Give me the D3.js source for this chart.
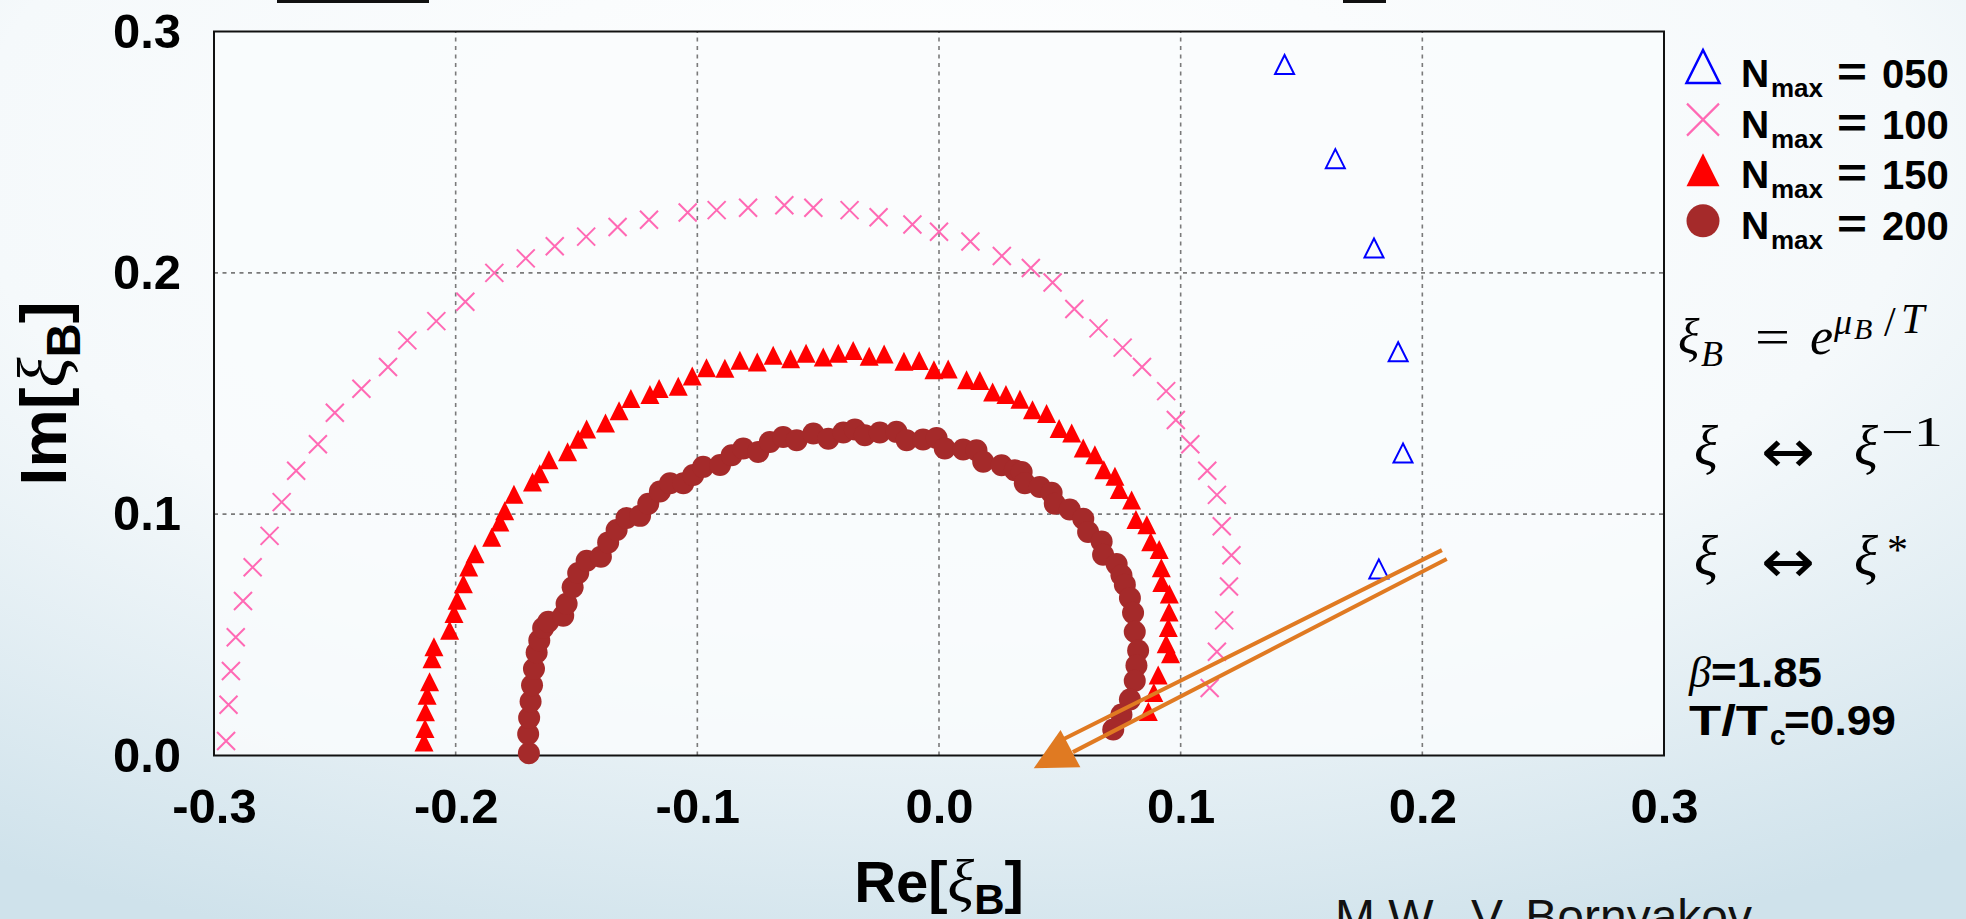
<!DOCTYPE html>
<html>
<head>
<meta charset="utf-8">
<script src="https://cdn.jsdelivr.net/npm/d3@7"></script>
<style>
html, body { margin: 0; padding: 0; overflow: hidden; }
svg { display: block; }
</style>
</head>
<body>
<div id="chart"></div>
<script>
// Lee-Yang zeros in the complex fugacity plane, one series per N_max
const re050 = [0.143, 0.164, 0.180, 0.190, 0.192, 0.182]
const im050 = [0.285, 0.246, 0.209, 0.166, 0.124, 0.076]

const re100 = [-0.295, -0.294, -0.293, -0.291, -0.288, -0.284, -0.277, -0.272, -0.266, -0.257,
  -0.250, -0.239, -0.228, -0.220, -0.208, -0.196, -0.184, -0.171, -0.159, -0.146,
  -0.133, -0.120, -0.104, -0.092, -0.079, -0.064, -0.052, -0.037, -0.025, -0.011,
  0.000, 0.013, 0.026, 0.038, 0.047, 0.056, 0.066, 0.076, 0.084, 0.094,
  0.098, 0.104, 0.111, 0.115, 0.117, 0.121, 0.120, 0.118, 0.115, 0.112]
const im100 = [0.006, 0.021, 0.035, 0.049, 0.064, 0.078, 0.091, 0.105, 0.118, 0.129,
  0.142, 0.152, 0.161, 0.172, 0.180, 0.188, 0.200, 0.206, 0.211, 0.215,
  0.219, 0.222, 0.225, 0.226, 0.227, 0.228, 0.227, 0.226, 0.223, 0.220,
  0.217, 0.213, 0.207, 0.202, 0.196, 0.185, 0.177, 0.169, 0.161, 0.151,
  0.139, 0.129, 0.118, 0.108, 0.095, 0.083, 0.070, 0.056, 0.043, 0.028]

const re150 = [-0.2131, -0.2127, -0.2125, -0.2118, -0.2108, -0.2098, -0.2090, -0.2025, -0.2007, -0.1994,
  -0.1968, -0.1946, -0.1920, -0.1851, -0.1817, -0.1797, -0.1759, -0.1682, -0.1652, -0.1614,
  -0.1537, -0.1493, -0.1458, -0.1380, -0.1324, -0.1275, -0.1196, -0.1158, -0.1079, -0.1021,
  -0.0962, -0.0886, -0.0824, -0.0752, -0.0686, -0.0614, -0.0550, -0.0479, -0.0417, -0.0355,
  -0.0289, -0.0227, -0.0145, -0.0082, -0.0021, 0.0038, 0.0114, 0.0169, 0.0222, 0.0277,
  0.0335, 0.0387, 0.0445, 0.0497, 0.0549, 0.0597, 0.0645, 0.0682, 0.0728, 0.0746,
  0.0797, 0.0815, 0.0860, 0.0876, 0.0911, 0.0920, 0.0922, 0.0953, 0.0952, 0.0949,
  0.0940, 0.0958, 0.0907, 0.0889, 0.0866]
const im150 = [0.0043, 0.0099, 0.0168, 0.0237, 0.0292, 0.0388, 0.0437, 0.0506, 0.0575, 0.0630,
  0.0699, 0.0768, 0.0823, 0.0891, 0.0954, 0.1001, 0.1069, 0.1120, 0.1154, 0.1212,
  0.1246, 0.1297, 0.1340, 0.1365, 0.1415, 0.1466, 0.1483, 0.1508, 0.1517, 0.1559,
  0.1594, 0.1592, 0.1625, 0.1617, 0.1645, 0.1631, 0.1654, 0.1638, 0.1654, 0.1665,
  0.1641, 0.1651, 0.1620, 0.1624, 0.1585, 0.1588, 0.1544, 0.1541, 0.1493, 0.1483,
  0.1463, 0.1420, 0.1404, 0.1342, 0.1323, 0.1261, 0.1233, 0.1171, 0.1144, 0.1089,
  0.1046, 0.0965, 0.0943, 0.0873, 0.0840, 0.0765, 0.0704, 0.0656, 0.0582, 0.0517,
  0.0450, 0.0409, 0.0320, 0.0248, 0.0169]

const re200 = [-0.1697, -0.1700, -0.1696, -0.1690, -0.1684, -0.1676, -0.1665, -0.1654, -0.1638, -0.1617,
  -0.1555, -0.1541, -0.1516, -0.1493, -0.1458, -0.1399, -0.1369, -0.1334, -0.1293, -0.1237,
  -0.1203, -0.1155, -0.1113, -0.1058, -0.1017, -0.0976, -0.0906, -0.0858, -0.0810, -0.0748,
  -0.0700, -0.0645, -0.0589, -0.0520, -0.0458, -0.0396, -0.0348, -0.0307, -0.0245, -0.0176,
  -0.0134, -0.0066, -0.0010, 0.0024, 0.0100, 0.0155, 0.0183, 0.0259, 0.0314, 0.0342,
  0.0355, 0.0417, 0.0466, 0.0479, 0.0541, 0.0597, 0.0617, 0.0673, 0.0679, 0.0735,
  0.0755, 0.0769, 0.0790, 0.0803, 0.0810, 0.0824, 0.0817, 0.0810, 0.0790, 0.0755,
  0.0721]
const im200 = [0.0009, 0.0089, 0.0156, 0.0224, 0.0291, 0.0359, 0.0427, 0.0477, 0.0528, 0.0554,
  0.0579, 0.0629, 0.0697, 0.0756, 0.0807, 0.0824, 0.0883, 0.0934, 0.0984, 0.0993,
  0.1043, 0.1094, 0.1128, 0.1128, 0.1162, 0.1196, 0.1204, 0.1244, 0.1272, 0.1258,
  0.1299, 0.1320, 0.1306, 0.1334, 0.1313, 0.1338, 0.1351, 0.1327, 0.1338, 0.1341,
  0.1306, 0.1309, 0.1316, 0.1272, 0.1268, 0.1265, 0.1217, 0.1203, 0.1182, 0.1175,
  0.1128, 0.1113, 0.1089, 0.1043, 0.1019, 0.0981, 0.0926, 0.0887, 0.0832, 0.0793,
  0.0747, 0.0708, 0.0653, 0.0591, 0.0513, 0.0435, 0.0373, 0.0310, 0.0232, 0.0170,
  0.0108]

const nmaxLabels = ['050', '100', '150', '200']
const xTicks = [-0.3, -0.2, -0.1, 0.0, 0.1, 0.2, 0.3]
const yTicks = [0.0, 0.1, 0.2, 0.3]
const xGrid = [-0.2, -0.1, 0.0, 0.1, 0.2]
const yGrid = [0.1, 0.2]

// orange double arrow (data units): two shafts and a head
const arrowShaftA = [[0.2081, 0.0851], [0.0508, 0.0064]]
const arrowShaftB = [[0.2101, 0.0814], [0.0554, 0.0014]]
const arrowHead = [[0.0503, 0.0106], [0.0392, -0.0053], [0.0585, -0.0049]]

const width = 1966
const height = 919
const sans = "'Liberation Sans', Arial, sans-serif"
const serif = "'Liberation Serif', 'Times New Roman', serif"

const svg = d3.select('#chart')
  .append('svg')
  .attr('width', width)
  .attr('height', height)

// slide background
const defs = svg.append('defs')
const bg = defs.append('radialGradient')
  .attr('id', 'bg')
  .attr('cx', '48%').attr('cy', '18%').attr('r', '90%')
bg.append('stop').attr('offset', '0%').attr('stop-color', '#ffffff')
bg.append('stop').attr('offset', '55%').attr('stop-color', '#f5f9fb')
bg.append('stop').attr('offset', '100%').attr('stop-color', '#cfe2eb')
svg.append('rect').attr('width', width).attr('height', height).attr('fill', 'url(#bg)')

// remnants of the text above the picture
svg.append('rect').attr('x', 277).attr('y', 0).attr('width', 152).attr('height', 3).attr('fill', '#111')
svg.append('rect').attr('x', 1343).attr('y', 0).attr('width', 43).attr('height', 3).attr('fill', '#111')

const x = d3.scaleLinear().domain([-0.3, 0.3]).range([214, 1664])
const y = d3.scaleLinear().domain([0, 0.3]).range([755.5, 31.5])

// plot area
svg.append('rect')
  .attr('x', x(-0.3)).attr('y', y(0.3))
  .attr('width', x(0.3) - x(-0.3)).attr('height', y(0) - y(0.3))
  .attr('fill', '#f9fcfd').attr('opacity', 0.85)

// grid
svg.append('g').selectAll('line')
  .data(xGrid)
  .enter()
  .append('line')
  .attr('x1', d => x(d)).attr('x2', d => x(d))
  .attr('y1', y(0)).attr('y2', y(0.3))
  .attr('stroke', '#7a7a7a').attr('stroke-width', 1.6).attr('stroke-dasharray', '4,4.5')
svg.append('g').selectAll('line')
  .data(yGrid)
  .enter()
  .append('line')
  .attr('x1', x(-0.3)).attr('x2', x(0.3))
  .attr('y1', d => y(d)).attr('y2', d => y(d))
  .attr('stroke', '#7a7a7a').attr('stroke-width', 1.6).attr('stroke-dasharray', '4,4.5')

// frame
svg.append('rect')
  .attr('x', x(-0.3)).attr('y', y(0.3))
  .attr('width', x(0.3) - x(-0.3)).attr('height', y(0) - y(0.3))
  .attr('fill', 'none').attr('stroke', '#111').attr('stroke-width', 2)

// axes
const styleTicks = g => {
  g.select('.domain').remove()
  g.selectAll('text')
    .attr('font-family', sans)
    .attr('font-weight', 'bold')
    .attr('font-size', 49)
    .attr('fill', '#000')
}
svg.append('g')
  .attr('transform', `translate(0, ${y(0)})`)
  .call(d3.axisBottom(x).tickValues(xTicks).tickSize(0).tickPadding(33).tickFormat(d => d.toFixed(1)))
  .call(styleTicks)
svg.append('g')
  .attr('transform', `translate(${x(-0.3)}, 0)`)
  .call(d3.axisLeft(y).tickValues(yTicks).tickSize(0).tickPadding(33).tickFormat(d => d.toFixed(1)))
  .call(styleTicks)

// axis titles
const axisTitle = (sel, prefix, k) => {
  sel.attr('text-anchor', 'middle').attr('fill', '#000')
  sel.append('tspan').text(prefix + '[')
    .attr('font-family', sans).attr('font-weight', 'bold').attr('font-size', 58 * k)
  sel.append('tspan').text('ξ')
    .attr('font-family', serif).attr('font-style', 'italic').attr('font-size', 62 * k)
  sel.append('tspan').text('B').attr('dy', 12 * k)
    .attr('font-family', sans).attr('font-weight', 'bold').attr('font-size', 42 * k)
  sel.append('tspan').text(']').attr('dy', -12 * k)
    .attr('font-family', sans).attr('font-weight', 'bold').attr('font-size', 58 * k)
}
svg.append('text')
  .attr('x', (x(-0.3) + x(0.3)) / 2).attr('y', 902)
  .call(axisTitle, 'Re', 1)
svg.append('text')
  .attr('transform', `translate(66, ${(y(0) + y(0.3)) / 2}) rotate(-90)`)
  .call(axisTitle, 'Im', 1.13)

// marker shapes
const tri = s => `M0,${-2 * s / 3}L${-s / 2},${s / 3}L${s / 2},${s / 3}Z`
const cross = h => `M${-h},${-h}L${h},${h}M${-h},${h}L${h},${-h}`
const pts = (re, im) => re.map((r, i) => ({ re: r, im: im[i] }))

svg.append('g').selectAll('path')
  .data(pts(re050, im050))
  .enter()
  .append('path')
  .attr('d', tri(19))
  .attr('transform', d => `translate(${x(d.re)}, ${y(d.im)})`)
  .attr('fill', 'none').attr('stroke', '#0000ff').attr('stroke-width', 2)

svg.append('g').selectAll('path')
  .data(pts(re100, im100))
  .enter()
  .append('path')
  .attr('d', cross(9))
  .attr('transform', d => `translate(${x(d.re)}, ${y(d.im)})`)
  .attr('fill', 'none').attr('stroke', '#ff69b4').attr('stroke-width', 2)

svg.append('g').selectAll('path')
  .data(pts(re150, im150))
  .enter()
  .append('path')
  .attr('d', tri(19))
  .attr('transform', d => `translate(${x(d.re)}, ${y(d.im)})`)
  .attr('fill', '#ff0000')

svg.append('g').selectAll('circle')
  .data(pts(re200, im200))
  .enter()
  .append('circle')
  .attr('cx', d => x(d.re))
  .attr('cy', d => y(d.im))
  .attr('r', 11)
  .attr('fill', '#a52a2a')

// orange arrow
const arrow = svg.append('g').attr('stroke', '#e07a22').attr('stroke-width', 4).attr('fill', 'none')
;[arrowShaftA, arrowShaftB].forEach(s => {
  arrow.append('line')
    .attr('x1', x(s[0][0])).attr('y1', y(s[0][1]))
    .attr('x2', x(s[1][0])).attr('y2', y(s[1][1]))
})
svg.append('polygon')
  .attr('points', arrowHead.map(p => [x(p[0]), y(p[1])].join(',')).join(' '))
  .attr('fill', '#e07a22')

// legend
const legendX = 1703
const legendY = i => 69 + i * 50.6
const legend = svg.append('g')
legend.append('path').attr('d', tri(33)).attr('transform', `translate(${legendX}, ${legendY(0) + 3})`)
  .attr('fill', 'none').attr('stroke', '#0000ff').attr('stroke-width', 2.5)
legend.append('path').attr('d', cross(16)).attr('transform', `translate(${legendX}, ${legendY(1)})`)
  .attr('fill', 'none').attr('stroke', '#ff69b4').attr('stroke-width', 2.2)
legend.append('path').attr('d', tri(33)).attr('transform', `translate(${legendX}, ${legendY(2) + 5})`)
  .attr('fill', '#ff0000')
legend.append('circle').attr('cx', legendX).attr('cy', legendY(3)).attr('r', 16.5)
  .attr('fill', '#a52a2a')

nmaxLabels.forEach((lab, i) => {
  const cy = legendY(i)
  const g = legend.append('g').attr('font-family', sans).attr('font-weight', 'bold').attr('fill', '#000')
  g.append('text').attr('x', 1741).attr('y', cy + 18).attr('font-size', 39).text('N')
  g.append('text').attr('x', 1771).attr('y', cy + 28).attr('font-size', 26).text('max')
  g.append('text').attr('x', 1837).attr('y', cy + 17).attr('font-size', 40)
    .attr('textLength', 30).attr('lengthAdjust', 'spacingAndGlyphs').text('=')
  g.append('text').attr('x', 1882).attr('y', cy + 19).attr('font-size', 40).text(lab)
})

// relations on the right
const note = svg.append('g').attr('fill', '#000')
const put = (txt, px, py, size, opts = {}) => {
  const t = note.append('text').attr('x', px).attr('y', py).attr('font-size', size)
    .attr('font-family', opts.family || (opts.sans ? sans : serif))
    .text(txt)
  if (opts.italic) t.attr('font-style', 'italic')
  if (opts.bold) t.attr('font-weight', 'bold')
  if (opts.len) t.attr('textLength', opts.len).attr('lengthAdjust', 'spacingAndGlyphs')
  return t
}
put('ξ', 1678, 354, 50, { italic: true })
put('B', 1701, 366, 36, { italic: true })
put('=', 1755, 354, 50, { len: 35 })
put('e', 1810, 354, 52, { italic: true })
put('μ', 1834, 334, 36, { italic: true })
put('B', 1854, 339, 30, { italic: true })
put('/', 1884, 336, 42)
put('T', 1901, 333, 42, { italic: true })

const arrowFont = "'DejaVu Sans', sans-serif"
put('ξ', 1694, 465, 56, { italic: true })
put('↔', 1761, 472, 60, { len: 54, family: arrowFont })
put('ξ', 1854, 465, 56, { italic: true })
put('−1', 1881, 446, 42, { len: 62 })

put('ξ', 1694, 575, 56, { italic: true })
put('↔', 1761, 582, 60, { len: 54, family: arrowFont })
put('ξ', 1854, 575, 56, { italic: true })
put('*', 1887, 564, 42)

put('β', 1689, 687, 44, { italic: true })
put('=1.85', 1711, 687, 42, { sans: true, bold: true, len: 111 })
put('T/T', 1689, 735, 42, { sans: true, bold: true, len: 79 })
put('c', 1770, 745, 28, { sans: true, bold: true })
put('=0.99', 1784, 735, 42, { sans: true, bold: true, len: 112 })

// author line, cut off by the bottom of the picture
svg.append('text')
  .attr('x', 1335).attr('y', 933)
  .attr('font-family', sans).attr('font-size', 48).attr('fill', '#111')
  .text('M.W., V. Bornyakov')
</script>
</body>
</html>
